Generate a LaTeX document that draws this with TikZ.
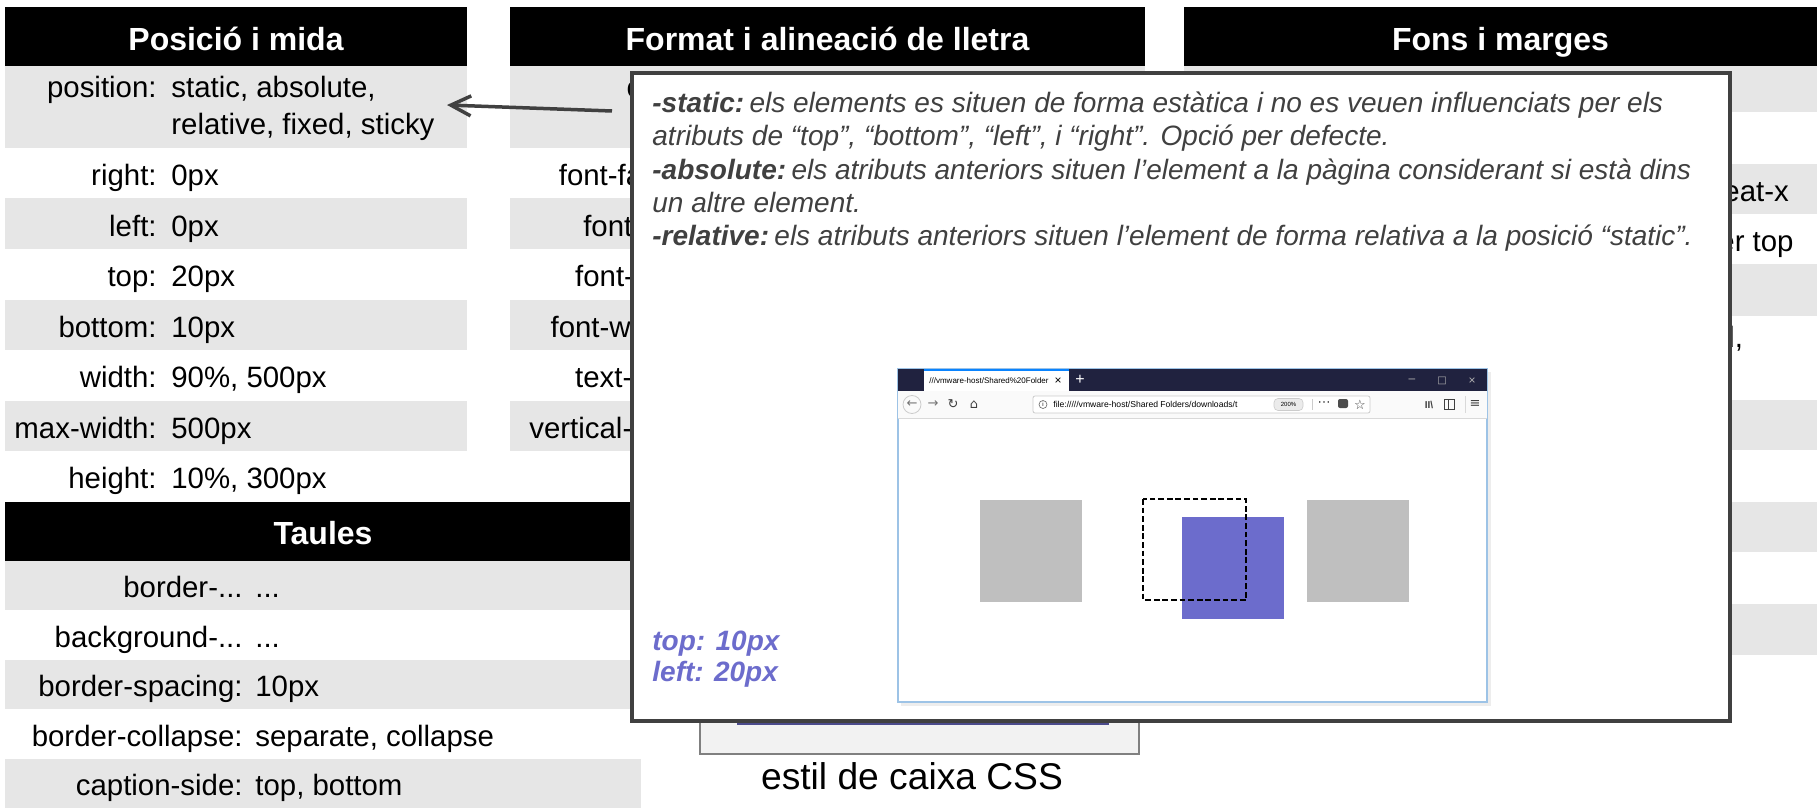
\documentclass[tikz,border=0pt]{standalone}
\usepackage{fontspec}
\setmainfont{Liberation Sans}
\newfontfamily\symfont{DejaVu Sans}
\usetikzlibrary{arrows.meta}

\definecolor{rowgray}{HTML}{E6E6E6}
\definecolor{popgray}{HTML}{404040}
\definecolor{boxblue}{HTML}{6C6CCC}
\definecolor{boxgray}{HTML}{BFBFBF}
\definecolor{barnavy}{HTML}{20223F}
\definecolor{tabblue}{HTML}{0A84FF}
\definecolor{frameblue}{HTML}{9DC3E6}
\definecolor{capgray}{HTML}{F2F2F2}
\definecolor{lineblue}{HTML}{4B4B8C}

\newcommand{\bodyfont}{\fontsize{14.7}{17}\selectfont}
\newcommand{\tdots}{...}
\newcommand{\opt}[1]{{\bfseries #1}\kern-0.18em\relax}

\begin{document}
\begin{tikzpicture}[x=0.5pt,y=-0.5pt,
    head/.style={anchor=base,inner sep=0pt,text=white,font=\fontsize{16}{18}\selectfont\bfseries},
    key/.style={anchor=mid east,inner sep=0pt,yshift=-3.5pt,font=\bodyfont},
    val/.style={anchor=mid west,inner sep=0pt,yshift=-3.5pt,font=\bodyfont},
    descline/.style={anchor=base west,inner sep=0pt,text=popgray,font=\fontsize{14}{16}\selectfont\itshape},
    pxlabel/.style={anchor=base west,inner sep=0pt,text=boxblue,font=\fontsize{14}{16}\selectfont\bfseries\itshape},
    pointer/.style={draw=popgray,line width=1.75pt,-{Straight Barb[length=10pt,width=10pt]}},
    tiny/.style={inner sep=0pt,font=\fontsize{4}{5}\selectfont},
    icon/.style={inner sep=0pt,text=black!55,font=\symfont\fontsize{6.5}{7}\selectfont},
  ]
\useasboundingbox (0,0) rectangle (1817,808);

% Posicio i mida
\fill (5,7) rectangle (467,66);
\node[head] (hpos) at (236,50.5) {Posició i mida};
\foreach \ya/\yb in {66/148,198.5/249,299.5/350,400.5/451}
  \fill[rowgray] (5,\ya) rectangle (467,\yb);
\node[key] (kpos) at (157,85.5) {position:};
\node[val] (vpos) at (171,85.5) {static, absolute,};
\node[val] (vposb) at (171,122.5) {relative, fixed, sticky};
\foreach \y/\k/\v [count=\i] in {173.5/right:/0px, 224/left:/0px, 274.5/top:/20px, 325/bottom:/10px,
    375.5/width:/90\%{,} 500px, 426/max-width:/500px, 476.5/height:/10\%{,} 300px} {
  \node[key] (kpos\i) at (157,\y) {\k};
  \node[val] (vpos\i) at (171,\y) {\v};
}

% Taules
\fill (5,502) rectangle (641,560.5);
\node[head] (htab) at (323,544) {Taules};
\foreach \ya/\yb in {560.5/610,659.5/709,758.5/808}
  \fill[rowgray] (5,\ya) rectangle (641,\yb);
\foreach \y/\k/\v [count=\i] in {585.25/border-\tdots/\tdots, 634.75/background-\tdots/\tdots, 684.25/border-spacing:/10px,
    733.75/border-collapse:/separate{,} collapse, 783.25/caption-side:/top{,} bottom} {
  \node[key] (ktab\i) at (243,\y) {\k};
  \node[val] (vtab\i) at (255,\y) {\v};
}

% Format i alineacio de lletra
\fill (510,7) rectangle (1145,66);
\node[head] (hfmt) at (827.5,50.5) {Format i alineació de lletra};
\foreach \ya/\yb in {66/148,198.5/249,299.5/350,400.5/451}
  \fill[rowgray] (510,\ya) rectangle (1145,\yb);
\node[key] (kfmt) at (699,85.5) {color:};
\foreach \y/\k [count=\i] in {173.5/font-family:, 224/font-size:, 274.5/font-style:, 325/font-weight:,
    375.5/text-align:, 426/vertical-align:}
  \node[key] (kfmt\i) at (703,\y) {\k};

% Fons i marges
\fill (1184,7) rectangle (1817,66);
\node[head] (hfons) at (1500.5,50.5) {Fons i marges};
\foreach \ya/\yb in {66/112,164/214,264/316,400/450,502/552,604/655}
  \fill[rowgray] (1184,\ya) rectangle (1817,\yb);
\node[val] (vfons1) at (1723,189) {eat-x};
\node[val] (vfons2) at (1718,239) {er top};
\node[anchor=base west,inner sep=0pt,font=\bodyfont] (vfons3) at (1718,347) {d,};

% caixa CSS
\filldraw[fill=capgray,draw=black!50,line width=0.6pt] (700,690) rectangle (1139,754);
\fill[lineblue] (737,690) rectangle (1109,725);
\node[font=\fontsize{18.6}{21}\selectfont,inner sep=0pt] (cap) at (912,776) {estil de caixa CSS};

% finestra emergent
\node[draw=popgray,fill=white,line width=1.75pt,inner sep=0pt,
      minimum width=549pt,minimum height=324pt] (popup) at (1181,397) {};
\coordinate (arrtail) at (612,111);
\coordinate (arrtip) at (447,105);
\draw[pointer] (arrtail) -- (arrtip);

\node[descline] (desc1) at (652,113) {\opt{-static:} els elements es situen de forma estàtica i no es veuen influenciats per els};
\node[descline] (desc2) at (652,146) {atributs de “top”, “bottom”, “left”, i “right”. Opció per defecte.};
\node[descline] (desc3) at (652,179.5) {\opt{-absolute:} els atributs anteriors situen l’element a la pàgina considerant si està dins};
\node[descline] (desc4) at (652,212.5) {un altre element.};
\node[descline] (desc5) at (652,246) {\opt{-relative:} els atributs anteriors situen l’element de forma relativa a la posició “static”.};

% navegador
\fill[black!7] (901,372) rectangle (1491,706);
\filldraw[fill=white,draw=frameblue,line width=0.6pt] (898,369) rectangle (1487,702);
\fill[barnavy] (898,369) rectangle (1487,391);
\fill[white] (924,369) rectangle (1069,391);
\fill[tabblue] (924,369) rectangle (1069,371);
\node[tiny,anchor=west] (tabtxt) at (929,381) {///vmware-host/Shared\%20Folder};
\node[tiny,font=\fontsize{6}{7}\selectfont] (tabx) at (1058,381) {×};
\node[tiny,text=white,font=\fontsize{8}{9}\selectfont] (tabplus) at (1080,380) {+};
\node[tiny,text=black!30,font=\fontsize{6}{7}\selectfont] (winmin) at (1412,381) {–};
\node[tiny,text=black!30,font=\symfont\fontsize{5}{6}\selectfont] (winmax) at (1442,381) {□};
\node[tiny,text=black!30,font=\fontsize{6}{7}\selectfont] (winx) at (1472,381) {×};
\fill[black!2] (898,391) rectangle (1487,418);
\draw[black!15,line width=0.4pt] (898,418) -- (1487,418);
\draw[black!20,line width=0.4pt] (912,404.5) circle (9);
\node[icon] (back) at (912,404.5) {←};
\node[icon] (fwd) at (933,404.5) {→};
\node[icon,text=black!75] (reload) at (953,404.5) {↻};
\node[icon,text=black!75] (home) at (974,404.5) {⌂};
\filldraw[fill=white,draw=black!20,line width=0.4pt,rounded corners=1pt] (1033,396) rectangle (1370,413);
\draw[black!60,line width=0.3pt] (1043,404.5) circle (4);
\node[tiny,font=\fontsize{3}{4}\selectfont] (info) at (1043,404.5) {i};
\node[tiny,anchor=west,font=\fontsize{4.3}{5}\selectfont] (url) at (1053,404.5) {file://///vmware-host/Shared Folders/downloads/t};
\filldraw[fill=black!8,draw=black!20,line width=0.3pt,rounded corners=2pt] (1274,398.5) rectangle (1303,410.5);
\node[tiny,font=\fontsize{3}{4}\selectfont] (zoomlvl) at (1288.5,404.5) {200\%};
\draw[black!20,line width=0.3pt] (1312,399) -- (1312,410);
\node[icon,text=black!75] (dots) at (1324,404.5) {⋯};
\fill[black!70,rounded corners=1pt] (1338,399) rectangle (1348,408);
\node[icon,text=black!75] (star) at (1360,404.5) {☆};
\node[tiny,text=black!75,font=\fontsize{5}{6}\selectfont\bfseries] (library) at (1429,404.5) {II\textbackslash};
\draw[black!75,line width=0.4pt] (1444,399.5) rectangle (1454,409.5) (1448,399.5) -- (1448,409.5);
\draw[black!15,line width=0.3pt] (1465,396) -- (1465,413);
\node[icon,text=black!75] (menu) at (1475,404.5) {≡};

% contingut
\fill[boxgray] (980,500) rectangle (1082,602);
\fill[boxgray] (1307,500) rectangle (1409,602);
\fill[boxblue] (1182,517) rectangle (1284,619);
\draw[line width=1pt,dash pattern=on 2.9pt off 1.4pt] (1143,499) rectangle (1246,600);

\node[pxlabel] (ltop) at (652,650) {top: 10px};
\node[pxlabel] (lleft) at (652,681) {left: 20px};
\end{tikzpicture}
\end{document}
